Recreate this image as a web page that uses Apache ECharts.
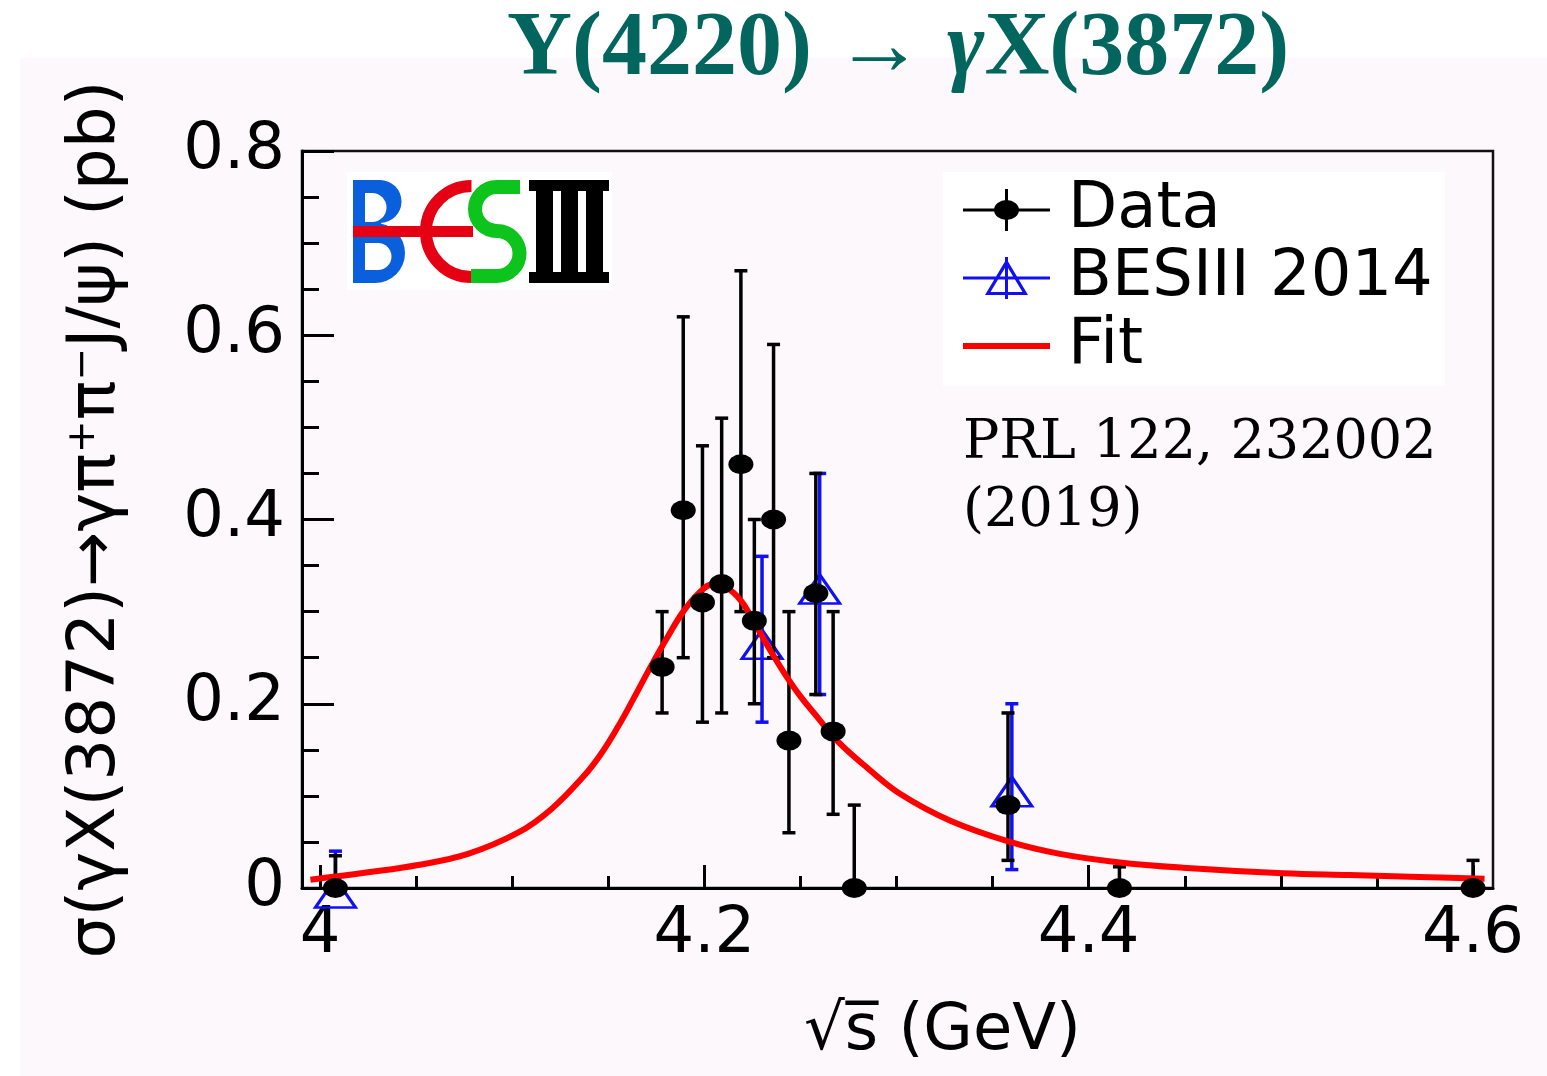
<!DOCTYPE html>
<html><head><meta charset="utf-8">
<script src="https://cdn.jsdelivr.net/npm/echarts@6/dist/echarts.min.js"></script>
<style>html,body{margin:0;padding:0;background:#fff}#c{width:1547px;height:1076px}</style>
</head><body><div id="c"></div>
<script>
// ---- data ----
const dataX  = [4.008, 4.178, 4.189, 4.199, 4.209, 4.219, 4.226, 4.236, 4.244, 4.258, 4.267, 4.278, 4.358, 4.416, 4.600];
const dataY  = [0.0,   0.24,  0.41,  0.31,  0.33,  0.46,  0.29,  0.40,  0.16,  0.32,  0.17,  0.0,   0.09,  0.0,   0.0];
const dataHi = [0.035, 0.30,  0.62,  0.48,  0.51,  0.67,  0.40,  0.59,  0.30,  0.45,  0.30,  0.09,  0.19,  0.023, 0.03];
const dataLo = [0.0,   0.19,  0.25,  0.18,  0.19,  0.30,  0.20,  0.25,  0.06,  0.21,  0.08,  0.0,   0.03,  0.0,   0.0];

const besX  = [4.008, 4.23, 4.26, 4.36];
const besY  = [0.0,   0.27, 0.33, 0.11];
const besHi = [0.04,  0.36, 0.45, 0.20];
const besLo = [0.0,   0.18, 0.21, 0.02];

const fitX = [3.995, 4.025, 4.051, 4.077, 4.103, 4.120, 4.137, 4.146, 4.155, 4.163, 4.172, 4.181, 4.189, 4.198, 4.205, 4.211, 4.219, 4.226, 4.234, 4.242, 4.250, 4.259, 4.269, 4.285, 4.302, 4.328, 4.359, 4.385, 4.415, 4.449, 4.501, 4.536, 4.572, 4.606];
const fitY = [0.009, 0.017, 0.025, 0.037, 0.060, 0.085, 0.121, 0.145, 0.175, 0.205, 0.240, 0.273, 0.300, 0.322, 0.330, 0.327, 0.312, 0.288, 0.259, 0.232, 0.208, 0.185, 0.160, 0.130, 0.102, 0.073, 0.050, 0.037, 0.028, 0.022, 0.016, 0.014, 0.012, 0.010];

const xMajorTicks = [4, 4.2, 4.4, 4.6];
const xMinorTicks = [4.05, 4.1, 4.15, 4.25, 4.3, 4.35, 4.45, 4.5, 4.55];
const xRange = [3.9906, 4.6104];
const yRange = [0, 0.8];

const titleText = '{b|Y(4220) → }{i|γ}{b|X(3872)}';
const yName = '{a|σ(γX(3872)→γπ}{s|+}{a|π}{s|−}{a|J/ψ) (pb)}';
const xName = '√s\u0305 (GeV)';
const refText = 'PRL 122, 232002\n(2019)';

// ---- rendering ----
const BLUE = '#1010f0';
const chart = echarts.init(document.getElementById('c'));

function errRender(color) {
  return function (params, api) {
    const x = api.value(0), lo = api.value(1), hi = api.value(2);
    const pLo = api.coord([x, lo]), pHi = api.coord([x, hi]);
    const cw = 6.5;
    const st = {stroke: color, lineWidth: 3.5};
    return {type: 'group', children: [
      {type: 'line', shape: {x1: pLo[0], y1: pLo[1], x2: pHi[0], y2: pHi[1]}, style: st},
      {type: 'line', shape: {x1: pHi[0] - cw, y1: pHi[1], x2: pHi[0] + cw, y2: pHi[1]}, style: st},
      {type: 'line', shape: {x1: pLo[0] - cw, y1: pLo[1], x2: pLo[0] + cw, y2: pLo[1]}, style: st}
    ]};
  };
}

const dataIcon = 'path://M0,0 M87,46 M0,21.5 L87,21.5 L87,24.5 L0,24.5 Z M42,2 L45,2 L45,44 L42,44 Z M56,23 A12.5,10 0 1 1 31,23 A12.5,10 0 1 1 56,23 Z';
const besIcon = 'path://M0,0 M87,46 M0,21.5 L87,21.5 L87,24.5 L0,24.5 Z M42,2 L45,2 L45,44 L42,44 Z M43.5,4 L65,40 L22,40 Z M43.5,10.5 L27.5,37 L59.5,37 Z';
const fitIcon = 'path://M0,0 M87,46 M0,20 L87,20 L87,26 L0,26 Z';

const axisFont = 'DejaVu Sans';
const PI = Math.PI;

chart.setOption({
  animation: false,
  backgroundColor: '#ffffff',
  title: {
    text: titleText, left: 502, top: 1,
    textStyle: {rich: {
      b: {fontFamily: 'Liberation Serif', fontWeight: 'bold', fontSize: 90, color: '#02665f'},
      i: {fontFamily: 'Liberation Serif', fontWeight: 'bold', fontStyle: 'italic', fontSize: 90, color: '#02665f'}
    }}
  },
  grid: {left: 302, right: 54, top: 151, bottom: 188, show: true, borderColor: '#111', borderWidth: 2.5, backgroundColor: 'transparent', outerBoundsMode: 'none'},
  legend: {
    data: [
      {name: 'Data', icon: dataIcon, itemStyle: {color: '#000', borderWidth: 0, opacity: 1}},
      {name: 'BESIII 2014', icon: besIcon, itemStyle: {color: BLUE, borderWidth: 0, opacity: 1}},
      {name: 'Fit', icon: fitIcon, itemStyle: {color: '#ff0000', borderWidth: 0, opacity: 1}}
    ],
    orient: 'vertical', left: 943, top: 172, itemWidth: 87, itemHeight: 46, itemGap: 4,
    padding: [6, 12, 8, 20], backgroundColor: '#ffffff', selectedMode: false,
    textStyle: {fontFamily: axisFont, fontSize: 64, color: '#000', lineHeight: 62, padding: [0, 0, 0, 13]}
  },
  xAxis: [{
    type: 'value', min: xRange[0], max: xRange[1], position: 'bottom',
    name: xName, nameLocation: 'middle', nameGap: 112,
    nameTextStyle: {fontFamily: axisFont, fontSize: 64, color: '#000', padding: [0, 0, 0, 90]},
    axisLine: {lineStyle: {color: '#000', width: 3}},
    axisTick: {inside: true, length: 23, customValues: xMajorTicks, lineStyle: {color: '#000', width: 3}},
    axisLabel: {customValues: xMajorTicks, margin: 15, fontFamily: axisFont, fontSize: 64, color: '#000'},
    splitLine: {show: false}
  }, {
    type: 'value', min: xRange[0], max: xRange[1], position: 'bottom', gridIndex: 0,
    axisLine: {show: false},
    axisTick: {inside: true, length: 12, customValues: xMinorTicks, lineStyle: {color: '#000', width: 3}},
    axisLabel: {show: false},
    splitLine: {show: false}
  }],
  yAxis: {
    type: 'value', min: yRange[0], max: yRange[1], interval: 0.2,
    name: yName, nameLocation: 'middle', nameGap: 172, nameRotate: 90,
    nameTextStyle: {fontFamily: axisFont, fontSize: 66, color: '#000', rich: {
      a: {fontFamily: axisFont, fontSize: 66, color: '#000'},
      s: {fontFamily: axisFont, fontSize: 39, color: '#000', verticalAlign: 'top'}
    }},
    axisLine: {lineStyle: {color: '#000', width: 3}},
    axisTick: {inside: true, length: 32, lineStyle: {color: '#000', width: 3}},
    minorTick: {show: true, splitNumber: 4, length: 17, lineStyle: {color: '#000', width: 3}},
    axisLabel: {margin: 17, fontFamily: axisFont, fontSize: 64, color: '#000'},
    splitLine: {show: false}
  },
  series: [
    {type: 'custom', name: 'besErr', z: 2, renderItem: errRender(BLUE), encode: {x: 0, y: [1, 2]},
     data: besX.map((x, i) => [x, besLo[i], besHi[i]])},
    {type: 'scatter', name: 'BESIII 2014', z: 3, clip: false, symbol: 'triangle', symbolSize: [40, 29], symbolOffset: [0, 5],
     itemStyle: {color: 'rgba(0,0,0,0)', borderColor: BLUE, borderWidth: 3, opacity: 1},
     data: besX.map((x, i) => [x, besY[i]])},
    {type: 'custom', name: 'dataErr', z: 4, renderItem: errRender('#000'), encode: {x: 0, y: [1, 2]},
     data: dataX.map((x, i) => [x, dataLo[i], dataHi[i]])},
    {type: 'line', name: 'Fit', z: 5, smooth: 0.4, showSymbol: false, symbol: 'none', clip: false,
     lineStyle: {color: '#ff0000', width: 6}, itemStyle: {color: '#ff0000'},
     data: fitX.map((x, i) => [x, fitY[i]])},
    {type: 'scatter', name: 'Data', z: 6, clip: false, symbol: 'circle', symbolSize: [25, 20],
     itemStyle: {color: '#000', opacity: 1},
     data: dataX.map((x, i) => [x, dataY[i]])}
  ],
  graphic: [
    {type: 'rect', z: -100, silent: true, shape: {x: 20, y: 58, width: 1527, height: 1018}, style: {fill: '#fdf8fc'}},
    {type: 'text', z: 10, x: 963, y: 410, style: {text: refText, font: '54px "DejaVu Serif"', fill: '#000', lineHeight: 68}},
    // BESIII logo
    {type: 'group', z: 10, children: [
      {type: 'rect', shape: {x: 347, y: 172, width: 265, height: 118}, style: {fill: '#ffffff'}},
      // B
      {type: 'rect', shape: {x: 353, y: 180, width: 28, height: 44}, style: {fill: '#0a5fdc'}},
      {type: 'sector', shape: {cx: 380, cy: 201.5, r: 21.5, r0: 0, startAngle: -PI / 2, endAngle: PI / 2, clockwise: true}, style: {fill: '#0a5fdc'}},
      {type: 'rect', shape: {x: 353, y: 223, width: 23, height: 60}, style: {fill: '#0a5fdc'}},
      {type: 'sector', shape: {cx: 375, cy: 253, r: 30, r0: 0, startAngle: -PI / 2, endAngle: PI / 2, clockwise: true}, style: {fill: '#0a5fdc'}},
      {type: 'rect', shape: {x: 365, y: 193, width: 8, height: 29}, style: {fill: '#ffffff'}},
      {type: 'sector', shape: {cx: 372, cy: 207.5, r: 14.5, r0: 0, startAngle: -PI / 2, endAngle: PI / 2, clockwise: true}, style: {fill: '#ffffff'}},
      {type: 'rect', shape: {x: 365, y: 243, width: 14, height: 27}, style: {fill: '#ffffff'}},
      {type: 'sector', shape: {cx: 378, cy: 256.5, r: 13.5, r0: 0, startAngle: -PI / 2, endAngle: PI / 2, clockwise: true}, style: {fill: '#ffffff'}},
      // E (red C with bar)
      {type: 'arc', shape: {cx: 471.5, cy: 231.5, r: 45.5, startAngle: PI / 2, endAngle: PI * 1.5, clockwise: true}, style: {stroke: '#e60014', lineWidth: 12, fill: null}},
      {type: 'rect', shape: {x: 353, y: 226, width: 120, height: 11}, style: {fill: '#e60014'}},
      // S
      {type: 'line', shape: {x1: 497, y1: 187, x2: 520, y2: 187}, style: {stroke: '#0cc41c', lineWidth: 14}},
      {type: 'arc', shape: {cx: 497, cy: 209, r: 22, startAngle: -PI / 2, endAngle: PI / 2, clockwise: false}, style: {stroke: '#0cc41c', lineWidth: 14, fill: null}},
      {type: 'arc', shape: {cx: 497, cy: 253.5, r: 22.5, startAngle: -PI / 2, endAngle: PI / 2, clockwise: true}, style: {stroke: '#0cc41c', lineWidth: 14, fill: null}},
      {type: 'line', shape: {x1: 471, y1: 276, x2: 497, y2: 276}, style: {stroke: '#0cc41c', lineWidth: 14}},
      // III
      {type: 'rect', shape: {x: 529, y: 180, width: 80, height: 11}, style: {fill: '#000'}},
      {type: 'rect', shape: {x: 529, y: 272, width: 80, height: 11}, style: {fill: '#000'}},
      {type: 'rect', shape: {x: 536, y: 180, width: 17, height: 103}, style: {fill: '#000'}},
      {type: 'rect', shape: {x: 561, y: 180, width: 17, height: 103}, style: {fill: '#000'}},
      {type: 'rect', shape: {x: 586, y: 180, width: 17, height: 103}, style: {fill: '#000'}}
    ]}
  ]
});
</script>
</body></html>
